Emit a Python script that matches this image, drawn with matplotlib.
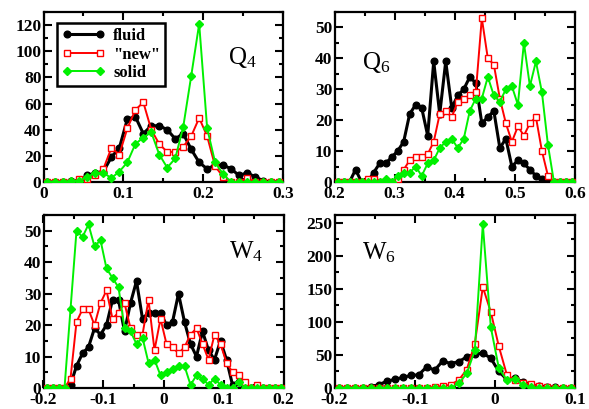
import numpy as np
import matplotlib
matplotlib.use("Agg")
import matplotlib.pyplot as plt
from matplotlib.ticker import MultipleLocator, FuncFormatter

# ---------------- data ----------------
q4_x = [round(0.005 + 0.01 * i, 3) for i in range(30)]
q4_fluid = [0, 0, 0, 1, 1, 5, 7, 8, 19, 26, 48, 50, 37, 43, 43, 40, 33, 37, 25, 15,
            10, 13, 13, 10, 5, 7, 4, 1, 0, 0]
q4_new = [0, 0, 0, 0, 2, 2, 5, 10, 26, 21, 41, 55, 61, 40, 29, 23, 23, 27, 35, 49,
          35, 12, 4, 0, 0, 3, 0, 0, 0, 0]
q4_solid = [0, 0, 0, 1, 1, 4, 7, 7, 3, 8, 15, 29, 34, 38, 21, 11, 18, 42, 81, 121,
            41, 15, 6, 0, 0, 0, 0, 0, 0, 0]

q6_x = [round(0.205 + 0.01 * i, 3) for i in range(40)]
q6_fluid = [0, 0, 0, 4, 0, 0, 3, 6, 6, 8, 10, 13, 22, 25, 24, 15, 39, 22, 39, 24,
            28, 30, 34, 32, 19, 21, 23, 11, 14, 5, 7, 6, 4, 2, 1, 0, 0, 0, 0, 0]
q6_new = [0, 0, 0, 0, 0, 1, 1, 0, 0, 0, 1, 4, 7, 8, 8, 9, 13, 22, 23, 21,
          26, 27, 28, 29, 53, 40, 38, 27, 19, 13, 18, 15, 19, 21, 10, 2, 0, 0, 0, 0]
q6_solid = [0, 0, 0, 0, 0, 0, 0, 0, 1, 0, 2, 3, 3, 5, 2, 6, 7, 11, 13, 14,
            11, 14, 23, 27, 27, 34, 28, 26, 30, 31, 25, 45, 31, 39, 29, 12, 0, 0, 0, 0]

w4_x = [round(-0.195 + 0.01 * i, 3) for i in range(40)]
w4_fluid = [0, 0, 0, 0, 1, 7, 11, 13, 19, 17, 20, 28, 28, 18, 27, 34, 22, 24, 24, 24,
            20, 21, 30, 21, 14, 10, 18, 12, 9, 15, 9, 1, 2, 0, 0, 0, 0, 0, 0, 0]
w4_new = [0, 0, 0, 0, 3, 21, 25, 25, 20, 27, 31, 22, 24, 27, 19, 17, 17, 28, 12, 22,
          14, 13, 11, 13, 17, 19, 14, 9, 17, 14, 8, 5, 4, 2, 0, 1, 0, 0, 0, 0]
w4_solid = [0, 0, 0, 0, 25, 50, 48, 52, 45, 47, 38, 35, 32, 19, 18, 14, 16, 8, 9, 4,
            5, 6, 7, 7, 1, 4, 3, 1, 3, 1, 0, 0, 2, 0, 0, 0, 0, 0, 0, 0]

w6_x = [round(-0.195 + 0.01 * i, 3) for i in range(30)]
w6_fluid = [0, 0, 0, 0, 2, 5, 10, 13, 16, 19, 20, 32, 27, 41, 37, 40, 47, 51, 53, 45,
            25, 13, 15, 9, 5, 3, 2, 1, 0, 0]
w6_new = [0, 0, 0, 0, 0, 0, 0, 0, 0, 0, 0, 0, 2, 3, 5, 12, 28, 67, 153, 115,
          63, 20, 12, 8, 6, 3, 1, 0, 0, 0]
w6_solid = [0, 0, 0, 0, 0, 0, 0, 0, 0, 0, 0, 0, 0, 0, 0, 7, 22, 57, 248, 92,
            30, 12, 14, 5, 1, 0, 0, 0, 0, 0]

series_labels = ["fluid", "\"new\"", "solid"]

# ---------------- style ----------------
plt.rcParams['font.family'] = ['Liberation Serif', 'DejaVu Serif']
plt.rcParams['mathtext.fontset'] = 'custom'
plt.rcParams['mathtext.rm'] = 'Liberation Serif'
plt.rcParams['mathtext.it'] = 'Liberation Serif'

fig = plt.figure(figsize=(5.89, 4.09), dpi=100)

W, H = 589.0, 409.0
def pos(x0, x1, y0, y1):
    return [x0 / W, 1 - y1 / H, (x1 - x0) / W, (y1 - y0) / H]

ax1 = fig.add_axes(pos(43.5, 283, 12, 182))
ax2 = fig.add_axes(pos(334.5, 575, 12, 182))
ax3 = fig.add_axes(pos(43.5, 283.5, 215, 388))
ax4 = fig.add_axes(pos(334.5, 575, 215, 388))

def fmt(v, p):
    if abs(v) < 1e-9:
        return "0"
    return "%.1f" % v

def draw(ax, x, f, n, s, xlim, ylim, xmaj, ymaj, label, lpos):
    ax.plot(x, f, color='black', lw=2.2, marker='o', ms=4.8, mfc='black', mec='black', zorder=3)
    ax.plot(x, n, color='#ff0000', lw=1.4, marker='s', ms=3.8, mfc='white', mec='#ff0000', mew=1.0, zorder=4)
    ax.plot(x, s, color='#00f000', lw=1.4, marker='D', ms=3.6, mfc='#00f000', mec='#00f000', zorder=5)
    ax.set_xlim(*xlim)
    ax.set_ylim(*ylim)
    ax.xaxis.set_major_locator(MultipleLocator(xmaj))
    ax.xaxis.set_minor_locator(MultipleLocator(xmaj / 2))
    ax.yaxis.set_major_locator(MultipleLocator(ymaj))
    ax.yaxis.set_minor_locator(MultipleLocator(ymaj / 2))
    ax.xaxis.set_major_formatter(FuncFormatter(fmt))
    ax.tick_params(which='both', direction='in', top=True, right=True, width=1.5)
    ax.tick_params(which='major', length=6, labelsize=12.5)
    ax.tick_params(axis='x', which='major', pad=3)
    ax.tick_params(axis='y', which='major', pad=1.5)
    ax.tick_params(which='minor', length=3)
    for sp in ax.spines.values():
        sp.set_linewidth(1.6)
    ax.text(lpos[0], lpos[1], label, transform=ax.transAxes, fontsize=18,
            ha='center', va='center')

draw(ax1, q4_x, q4_fluid, q4_new, q4_solid, (0, 0.3), (0, 130), 0.1, 20,
     r'$\mathrm{Q}_4$', (0.83, 0.73))
draw(ax2, q6_x, q6_fluid, q6_new, q6_solid, (0.2, 0.6), (0, 55), 0.1, 10,
     r'$\mathrm{Q}_6$', (0.175, 0.70))
draw(ax3, w4_x, w4_fluid, w4_new, w4_solid, (-0.2, 0.2), (0, 55), 0.1, 10,
     r'$\mathrm{W}_4$', (0.845, 0.79))
draw(ax4, w6_x, w6_fluid, w6_new, w6_solid, (-0.2, 0.1), (0, 262), 0.1, 50,
     r'$\mathrm{W}_6$', (0.185, 0.78))

for ax in (ax1, ax2, ax3, ax4):
    for lab in ax.get_xticklabels() + ax.get_yticklabels():
        lab.set_fontweight('bold')

handles = ax1.get_lines()[:3]
leg = ax1.legend(handles, series_labels, loc='upper left', bbox_to_anchor=(0.055, 0.935),
                 numpoints=2, fancybox=False, frameon=True, borderpad=0.3,
                 handlelength=2.6, handletextpad=0.5, labelspacing=0.15,
                 prop={'family': 'Liberation Serif', 'weight': 'bold', 'size': 12},
                 borderaxespad=0.0)
leg.get_frame().set_edgecolor('black')
leg.get_frame().set_linewidth(1.8)
leg.get_frame().set_alpha(1)

fig.savefig("out.png", dpi=100)
